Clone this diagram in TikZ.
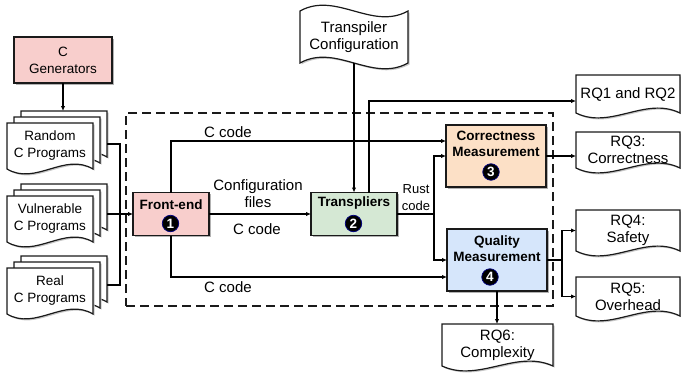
\documentclass[tikz,border=0pt]{standalone}
\usepackage{fontspec}
\setmainfont{Liberation Sans}
\usetikzlibrary{arrows.meta,shadows,calc}
\pgfdeclarelayer{background}
\pgfsetlayers{background,main}
\definecolor{pinkc}{HTML}{F8CECC}
\definecolor{greenc}{HTML}{D5E8D4}
\definecolor{orangec}{HTML}{FCE0C6}
\definecolor{bluec}{HTML}{D6E6FB}
\definecolor{edgec}{HTML}{1A1A1A}
\newcommand\docpath[1]{%
  \path[docline] let \p1=(#1.south west), \p2=(#1.north east), \n1={(\x2-\x1)/3} in
   (\x1,\y2) -- (\x2,\y2) -- (\x2,\y1) .. controls ({\x2-\n1},{\y1+17pt}) and ({\x1+\n1},{\y1-17pt}) .. (\x1,\y1) -- cycle;}
\newcommand\tapepath[1]{%
  \path[docline] let \p1=(#1.south west), \p2=(#1.north east), \n1={(\x2-\x1)/3} in
   (\x1,\y2) .. controls ({\x1+\n1},{\y2+20pt}) and ({\x2-\n1},{\y2-20pt}) .. (\x2,\y2)
   -- (\x2,\y1) .. controls ({\x2-\n1},{\y1-20pt}) and ({\x1+\n1},{\y1+20pt}) .. (\x1,\y1) -- cycle;}
\tikzset{
  box/.style={draw=edgec, line width=1.2pt, inner sep=0pt, outer sep=0pt,
    drop shadow={shadow xshift=1.5pt, shadow yshift=-1.5pt, opacity=0.3, fill=black}},
  docnode/.style={inner sep=0pt, outer sep=0pt, align=center, minimum width=86pt, minimum height=46pt,
    font=\fontsize{13.5}{17}\selectfont},
  rqnode/.style={inner sep=0pt, outer sep=0pt, align=center, minimum width=104pt,
    font=\fontsize{15}{17}\selectfont},
  docline/.style={draw=edgec, fill=white, line width=1.2pt,
    preaction={fill=black!22, transform canvas={xshift=1.5pt, yshift=-1.5pt}}},
  lbl/.style={align=center, inner sep=0pt, font=\fontsize{15}{17}\selectfont},
  ttl/.style={align=center, inner sep=0pt, font=\bfseries\fontsize{13.5}{16}\selectfont},
  numc/.style={circle, fill=black, draw=blue!50!black, line width=0.7pt, text=white,
    inner sep=0pt, minimum size=16.5pt, font=\bfseries\fontsize{13.5}{14}\selectfont},
  conn/.style={draw=black, line width=1.2pt},
  arr/.style={conn, -{Latex[length=5pt,width=4.5pt]}},
  frame/.style={draw=edgec, line width=1.2pt, dash pattern=on 9pt off 5pt, inner sep=0pt}
}
\begin{document}
\begin{tikzpicture}[x=1pt,y=-1pt]
\useasboundingbox (0,0) rectangle (681,375);
% dashed frame
\node[frame, minimum width=427pt, minimum height=193pt] (frm) at (339.5,209.5) {};
% generators
\node[box, fill=pinkc, minimum width=98pt, minimum height=46pt, align=center,
  font=\fontsize{13.5}{17}\selectfont] (gen) at (63,60) {C\\Generators};
% multi documents
\node[docnode] (rand3) at (64,134) {};
\node[docnode] (rand2) at (57,140) {};
\node[docnode] (rand) at (50,146) {Random\\C Programs};
\node[docnode] (vuln3) at (64,207) {};
\node[docnode] (vuln2) at (57,213) {};
\node[docnode] (vuln) at (50,219) {Vulnerable\\C Programs};
\node[docnode] (real3) at (64,279) {};
\node[docnode] (real2) at (57,285) {};
\node[docnode] (real) at (50,291) {Real\\C Programs};
% transpiler configuration
\node[rqnode, minimum width=108pt, minimum height=52pt] (cfg) at (354,37) {Transpiler\\Configuration};
% process boxes
\node[box, fill=pinkc, minimum width=76pt, minimum height=43pt] (fe) at (171,214) {};
\node[ttl] (fet) at (171,204.5) {Front-end};
\node[numc] (n1) at (170.5,223.5) {1};
\node[box, fill=greenc, minimum width=86pt, minimum height=43pt] (tr) at (354,214) {};
\node[ttl] (trt) at (354,203) {Transpliers};
\node[numc] (n2) at (353.5,223.5) {2};
\node[box, fill=orangec, minimum width=100pt, minimum height=62pt] (corr) at (496,156) {};
\node[ttl] (cort) at (496,143.5) {Correctness\\Measurement};
\node[numc] (n3) at (491,172) {3};
\node[box, fill=bluec, minimum width=100pt, minimum height=62pt] (qual) at (497,260) {};
\node[ttl] (qut) at (497,249) {Quality\\Measurement};
\node[numc] (n4) at (490,277) {4};
% result documents
\node[rqnode, minimum height=38pt] (rq12) at (628,94) {RQ1 and RQ2};
\node[rqnode, minimum height=36pt] (rq3) at (628,150) {RQ3:\\Correctness};
\node[rqnode, minimum height=41pt] (rq4) at (628,230.5) {RQ4:\\Safety};
\node[rqnode, minimum height=39pt] (rq5) at (628,296.5) {RQ5:\\Overhead};
\node[rqnode, minimum width=111pt, minimum height=42pt] (rq6) at (497.5,345) {RQ6:\\Complexity};
% outlines
\begin{pgfonlayer}{background}
\docpath{rand3}\docpath{rand2}\docpath{rand}
\docpath{vuln3}\docpath{vuln2}\docpath{vuln}
\docpath{real3}\docpath{real2}\docpath{real}
\tapepath{cfg}
\docpath{rq12}\docpath{rq3}\docpath{rq4}\docpath{rq5}\docpath{rq6}
\end{pgfonlayer}
% labels
\node[lbl] (l1) at (228,132) {C code};
\node[lbl] (l2) at (258,194) {Configuration\\files};
\node[lbl] (l3) at (257,229.5) {C code};
\node[lbl, font=\fontsize{13}{17}\selectfont] (l4) at (416,198) {Rust\\code};
\node[lbl] (l5) at (228,287) {C code};
% connectors
\draw[arr] (gen.south) -- (gen.south |- rand3.north);
\coordinate (ja) at (120,144);
\coordinate (jb) at (120,285);
\draw[conn] (rand3.east |- ja) -- (ja) -- (jb) -- (real3.east |- jb);
\draw[arr] (vuln3.east |- fe.west) -- (fe.west);
\coordinate (c1) at (171,141);
\draw[arr] (fe.north) -- (c1) -- (c1 -| corr.west);
\draw[arr] (fe.east) -- (tr.west);
\coordinate (c2) at (171,277);
\draw[arr] (fe.south) -- (c2) -- (c2 -| qual.west);
\draw[arr] (cfg.south) -- (tr.north);
\coordinate (c3) at (369,101);
\draw[arr] (c3 |- tr.north) -- (c3) -- (c3 -| rq12.west);
\coordinate (j2) at (434,214);
\draw[conn] (tr.east) -- (j2);
\draw[arr] (j2) |- (corr.west);
\draw[arr] (j2) |- (qual.west);
\draw[arr] (corr.east) -- (corr.east -| rq3.west);
\coordinate (j3) at (562,260);
\draw[conn] (qual.east) -- (j3);
\draw[arr] (j3) |- (rq4.west);
\draw[arr] (j3) |- (rq5.west);
\draw[arr] (qual.south) -- (qual.south |- rq6.north);
\end{tikzpicture}
\end{document}
